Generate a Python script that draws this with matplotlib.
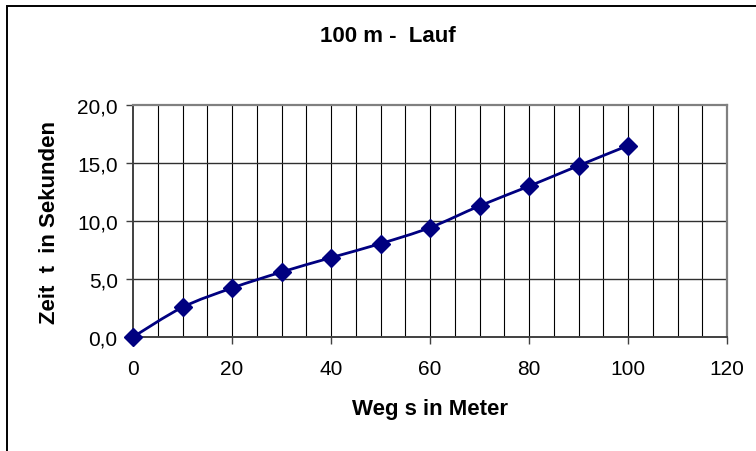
import numpy as np
import matplotlib
matplotlib.use("Agg")
import matplotlib.pyplot as plt
from matplotlib.path import Path
from matplotlib.patches import PathPatch, Rectangle
from matplotlib.ticker import MultipleLocator, FuncFormatter

# data
weg = [0, 10, 20, 30, 40, 50, 60, 70, 80, 90, 100]
zeit = [0.0, 2.56, 4.22, 5.6, 6.84, 8.05, 9.43, 11.3, 13.0, 14.77, 16.5]

title = "100 m -  Lauf"
xlabel = "Weg s in Meter"
ylabel = "Zeit  t  in Sekunden"

plt.rcParams['font.family'] = ['Liberation Sans', 'DejaVu Sans']

W, H = 756, 452
fig = plt.figure(figsize=(W / 100, H / 100), dpi=100)

# outer chart frame (only top and left edges visible)
fig.patches.append(Rectangle((7 / W, -0.1), 1.2, 1 - 7 / H + 0.1, transform=fig.transFigure,
                             fill=False, edgecolor='black', linewidth=1.4))

left, right, top, bottom = 133, 727, 106, 338
ax = fig.add_axes([left / W, 1 - bottom / H, (right - left) / W, (bottom - top) / H])

ax.set_xlim(0, 120)
ax.set_ylim(0, 20)

# grid
for xv in np.arange(5, 120, 5):
    ax.axvline(xv, color='black', linewidth=0.8, zorder=1)
for yv in [5, 10, 15]:
    ax.axhline(yv, color='#303030', linewidth=1.0, zorder=1)

for s in ['top', 'right']:
    ax.spines[s].set_color('#808080')
    ax.spines[s].set_linewidth(1.6)
for s in ['left', 'bottom']:
    ax.spines[s].set_color('#404040')
    ax.spines[s].set_linewidth(1.4)

ax.xaxis.set_major_locator(MultipleLocator(20))
ax.yaxis.set_major_locator(MultipleLocator(5))
ax.yaxis.set_major_formatter(FuncFormatter(lambda v, p: f"{v:.1f}".replace('.', ',')))
ax.tick_params(direction='out', length=5, width=1, color='#404040', labelsize=15, pad=6)
ax.tick_params(axis='x', pad=11)

# smoothed line (Excel style bezier)
pts = np.column_stack([weg, zeit]).astype(float)
verts = [pts[0]]
codes = [Path.MOVETO]
n = len(pts)
for i in range(n - 1):
    p0 = pts[i - 1] if i > 0 else pts[i]
    p1 = pts[i]
    p2 = pts[i + 1]
    p3 = pts[i + 2] if i + 2 < n else pts[i + 1]
    c1 = p1 + (p2 - p0) / 6
    c2 = p2 - (p3 - p1) / 6
    verts += [c1, c2, p2]
    codes += [Path.CURVE4] * 3
ax.add_patch(PathPatch(Path(verts, codes), fill=False, edgecolor='#000080', linewidth=2, zorder=3))

ax.plot(weg, zeit, linestyle='none', marker='D', markersize=9.5, color='#000080',
        clip_on=False, zorder=4)

fig.text(388 / W, 1 - 37 / H, title, ha='center', va='center', fontsize=16, fontweight='bold')
fig.text(430 / W, 1 - 410 / H, xlabel, ha='center', va='center', fontsize=16, fontweight='bold')
fig.text(50 / W, 1 - 222 / H, ylabel, ha='center', va='center', rotation=90,
         fontsize=16, fontweight='bold')

fig.savefig("out.png", dpi=100)
